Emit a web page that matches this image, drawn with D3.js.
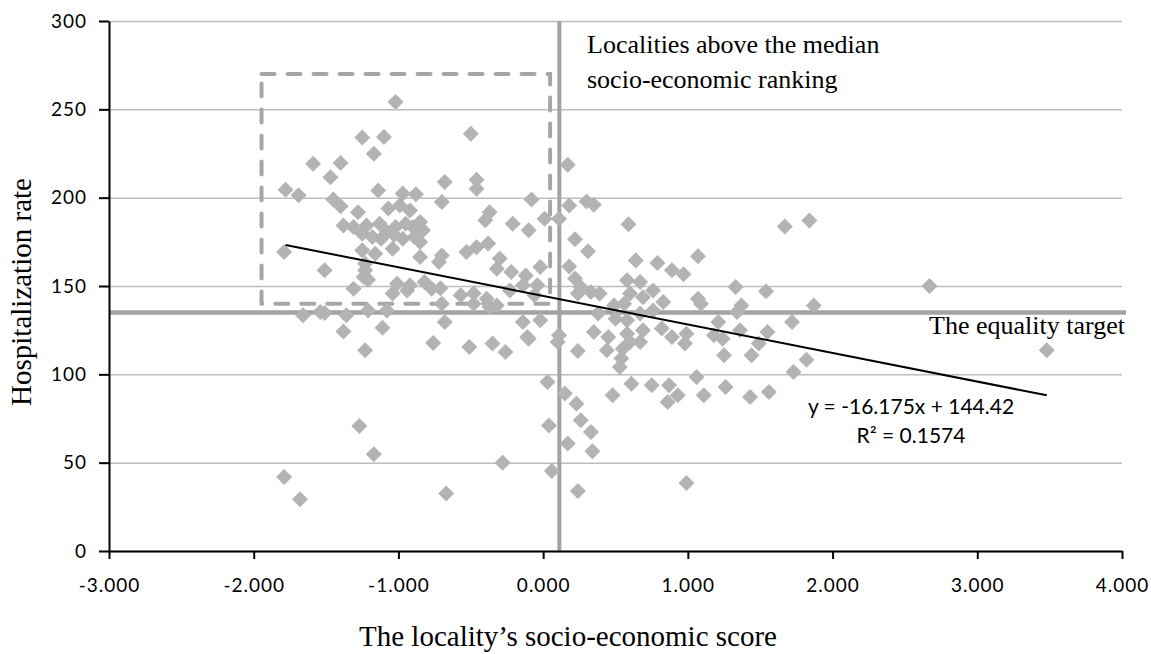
<!DOCTYPE html>
<html>
<head>
<meta charset="utf-8">
<script src="https://cdn.jsdelivr.net/npm/d3@7"></script>
<style>
  body { margin: 0; background: #fff; }
  .tick text { font-family: Lato, "Open Sans", sans-serif; font-size: 19px; letter-spacing: 1px; fill: #000; }
  .serif { font-family: "Liberation Serif", "Times New Roman", serif; fill: #000; }
  .eq { font-family: Lato, "Open Sans", sans-serif; font-size: 21px; fill: #000; }
</style>
</head>
<body>
<div id="chart"></div>
<script>
// socio-economic score of each locality
var scores = [
  -1.78, -1.69, -1.79, -1.66, -1.79, -1.68, -1.59, -1.51, -1.54, -1.51,
  -1.47, -1.40, -1.45, -1.40, -1.38, -1.36, -1.38, -1.31, -1.28, -1.25,
  -1.22, -1.25, -1.16, -1.24, -1.31, -1.23, -1.25, -1.10, -1.17, -1.14,
  -1.23, -1.21, -1.08, -1.11, -1.27, -1.17, -1.02, -1.07, -0.99, -0.97,
  -0.88, -0.92, -1.13, -1.08, -1.02, -0.95, -0.90, -0.85, -0.83, -1.12,
  -1.03, -0.97, -0.89, -0.85, -1.04, -0.85, -1.01, -0.92, -0.82, -0.77,
  -1.04, -0.70, -0.68, -0.46, -0.46, -0.50, -0.37, -0.40, -0.21, -0.10,
   0.01, -0.08, -0.70, -0.72, -0.53, -0.46, -0.38, -0.30, -0.32, -0.22,
  -0.12, -0.02, -0.57, -0.48, -0.39, -0.23, -0.14, -0.04, -0.06, -0.70,
  -0.68, -0.76, -0.51, -0.48, -0.35, -0.26, -0.37, -0.32, -0.14, -0.11,
  -0.28, -0.67, -1.21, -0.94, -1.23, -1.18, -0.71,
   0.17, 0.18, 0.30, 0.35, 0.11, 0.59, 1.67, 1.84, 0.22, 0.31,
   1.07, 0.64, 0.79, 0.89, 0.97, 0.18, 0.22, 0.26, 0.33, 0.39,
   0.24, 0.58, 0.67, 0.76, 0.60, 0.69, 0.56, 0.49, 1.33, 1.54,
   1.07, 1.09, 0.83, 1.37, 1.34, 1.87, -0.02, 0.38, 0.50, 0.58,
   0.67, 0.76, 1.21, 1.18, 1.24, 1.36, 1.55, 1.49, 1.72, 0.35,
   0.45, 0.58, 0.69, 0.60, 0.67, 0.82, 0.89, 0.99, 0.98, 0.11,
   0.10, 0.24, 0.44, 0.55, 0.54, 0.53, 1.25, 1.44, 1.73, 1.82,
   0.03, 0.15, 0.23, 0.61, 0.75, 0.87, 0.93, 0.86, 0.48, 1.06,
   1.11, 1.26, 1.43, 1.56, 0.26, 0.33, 0.04, 0.17, 0.34, 0.06,
   0.24, 0.99, 2.67, 3.48, -0.10
];

// hospitalization rate of each locality
var rates = [
  204.5, 201.3, 169.2, 133.4, 41.9, 29.3, 219.2, 158.9, 135.3, 134.7,
  211.5, 219.6, 198.9, 195.1, 124.3, 133.4, 184.3, 183.4, 191.8, 179.6,
  184.3, 170.2, 168.3, 155.1, 148.5, 158.9, 234.0, 234.3, 224.9, 204.1,
  113.6, 136.2, 136.2, 126.4, 70.7, 54.7, 254.1, 193.8, 195.6, 202.3,
  201.9, 192.8, 185.3, 180.5, 183.4, 185.3, 183.4, 186.2, 181.5, 176.8,
  179.0, 176.8, 177.7, 174.9, 171.1, 166.4, 151.3, 150.4, 152.2, 148.5,
  145.7, 197.5, 208.8, 210.2, 205.1, 236.2, 191.8, 187.2, 185.3, 181.5,
  188.1, 198.9, 167.3, 163.6, 169.2, 172.0, 174.0, 165.5, 159.8, 157.9,
  156.0, 160.7, 144.7, 145.7, 142.8, 147.5, 150.4, 150.4, 144.7, 140.0,
  129.6, 117.7, 115.5, 140.0, 117.4, 112.6, 138.1, 139.0, 129.6, 121.1,
  50.0, 32.5, 153.6, 147.5, 162.6, 177.7, 148.7,
  218.7, 195.6, 197.9, 196.0, 188.1, 184.9, 183.7, 187.1, 176.4, 169.6,
  166.8, 164.5, 163.0, 158.9, 156.6, 161.1, 154.2, 149.4, 146.6, 145.7,
  145.7, 153.2, 152.2, 147.5, 145.7, 143.7, 140.0, 139.0, 149.4, 147.0,
  142.8, 140.0, 140.9, 139.0, 135.3, 139.0, 130.6, 134.4, 131.5, 130.6,
  134.4, 136.2, 129.6, 122.1, 120.2, 124.9, 123.9, 117.4, 129.6, 123.9,
  121.1, 123.0, 124.9, 118.3, 118.3, 125.9, 121.1, 123.0, 117.4, 122.1,
  118.3, 113.2, 113.6, 114.5, 108.9, 104.1, 110.8, 110.8, 101.3, 108.3,
  95.6, 89.1, 83.4, 94.7, 93.8, 93.8, 88.1, 84.3, 88.1, 98.5,
  88.1, 92.8, 87.2, 90.0, 74.0, 67.3, 71.1, 60.8, 56.4, 45.3,
  34.0, 38.5, 150.0, 113.6, 120.2
];

var xTicks = [-3, -2, -1, 0, 1, 2, 3, 4];
var yTicks = [0, 50, 100, 150, 200, 250, 300];

// reference lines and highlighted box
var medianScore = 0.112;
var equalityTarget = 135;
var boxScores = [-1.946, 0.048];
var boxRates = [140, 270];

// linear trend
var slope = -16.175;
var intercept = 144.42;
var rSquared = 0.1574;
var trendRange = [-1.78, 3.48];

var svgWidth = 1151;
var svgHeight = 654;
var margin = { top: 21, right: 29, bottom: 103, left: 109 };
var chartWidth = svgWidth - margin.left - margin.right;
var chartHeight = svgHeight - margin.top - margin.bottom;

var svg = d3.select("#chart")
  .append("svg")
  .attr("width", svgWidth)
  .attr("height", svgHeight);

var chartGroup = svg.append("g")
  .attr("transform", `translate(${margin.left}, ${margin.top})`);

var xScale = d3.scaleLinear().domain([-3, 4]).range([0, chartWidth]);
var yScale = d3.scaleLinear().domain([0, 300]).range([chartHeight, 0]);

// horizontal gridlines
var grid = chartGroup.append("g")
  .call(d3.axisLeft(yScale).tickValues(yTicks).tickSize(-chartWidth).tickFormat(""));
grid.select(".domain").remove();
grid.selectAll("line").attr("stroke", "#bdbdbd").attr("stroke-width", 1.5);

// dashed box around the low-score / high-rate localities
chartGroup.append("rect")
  .attr("x", xScale(boxScores[0]))
  .attr("y", yScale(boxRates[1]))
  .attr("width", xScale(boxScores[1]) - xScale(boxScores[0]))
  .attr("height", yScale(boxRates[0]) - yScale(boxRates[1]))
  .attr("fill", "none")
  .attr("stroke", "#a6a6a6")
  .attr("stroke-width", 4)
  .attr("stroke-linecap", "round")
  .attr("stroke-dasharray", "13,13");

// median line and equality target
chartGroup.append("line")
  .attr("x1", xScale(medianScore)).attr("x2", xScale(medianScore))
  .attr("y1", yScale(300)).attr("y2", yScale(0))
  .attr("stroke", "#a3a3a3").attr("stroke-width", 4);

chartGroup.append("line")
  .attr("x1", xScale(-3)).attr("x2", xScale(4) + 4)
  .attr("y1", yScale(equalityTarget)).attr("y2", yScale(equalityTarget))
  .attr("stroke", "#a3a3a3").attr("stroke-width", 4.5);

// points
var diamond = "M0,-8L8,0L0,8L-8,0Z";
chartGroup.selectAll(".dot")
  .data(scores.map((s, i) => ({ score: s, rate: rates[i] })))
  .enter()
  .append("path")
  .attr("class", "dot")
  .attr("d", diamond)
  .attr("transform", d => `translate(${xScale(d.score)}, ${yScale(d.rate)})`)
  .attr("fill", "#b3b3b3");

// trend line
chartGroup.append("line")
  .attr("x1", xScale(trendRange[0]))
  .attr("y1", yScale(slope * trendRange[0] + intercept))
  .attr("x2", xScale(trendRange[1]))
  .attr("y2", yScale(slope * trendRange[1] + intercept))
  .attr("stroke", "#000")
  .attr("stroke-width", 2);

// axes
var leftAxis = chartGroup.append("g")
  .call(d3.axisLeft(yScale).tickValues(yTicks).tickSize(10).tickSizeOuter(0).tickPadding(12));

var bottomAxis = chartGroup.append("g")
  .attr("transform", `translate(0, ${chartHeight})`)
  .call(d3.axisBottom(xScale).tickValues(xTicks).tickSize(8).tickSizeOuter(0).tickPadding(20)
    .tickFormat(d3.format(".3f")));

[leftAxis, bottomAxis].forEach(function(ax) {
  ax.select(".domain").attr("stroke", "#000").attr("stroke-width", 2);
  ax.selectAll(".tick line").attr("stroke", "#000").attr("stroke-width", 2);
});
bottomAxis.selectAll(".tick text").text(d => d3.format(".3f")(d).replace("−", "-"));

// annotations
svg.append("text").attr("class", "serif")
  .attr("x", 587).attr("y", 53).style("font-size", "26px")
  .text("Localities above the median");
svg.append("text").attr("class", "serif")
  .attr("x", 587).attr("y", 88).style("font-size", "26px")
  .text("socio-economic ranking");

svg.append("text").attr("class", "serif")
  .attr("x", 1125).attr("y", 334).attr("text-anchor", "end").style("font-size", "26px")
  .text("The equality target");

svg.append("text").attr("class", "eq")
  .attr("x", 911).attr("y", 414).attr("text-anchor", "middle")
  .text(`y = ${slope}x + ${intercept}`);
svg.append("text").attr("class", "eq")
  .attr("x", 911).attr("y", 443).attr("text-anchor", "middle")
  .text(`R² = ${rSquared}`);

// axis titles
svg.append("text").attr("class", "serif")
  .attr("x", 568).attr("y", 646).attr("text-anchor", "middle").style("font-size", "29px")
  .text("The locality’s socio-economic score");

svg.append("text").attr("class", "serif")
  .attr("transform", "rotate(-90)")
  .attr("x", -292).attr("y", 31).attr("text-anchor", "middle").style("font-size", "29px")
  .text("Hospitalization rate");
</script>
</body>
</html>
